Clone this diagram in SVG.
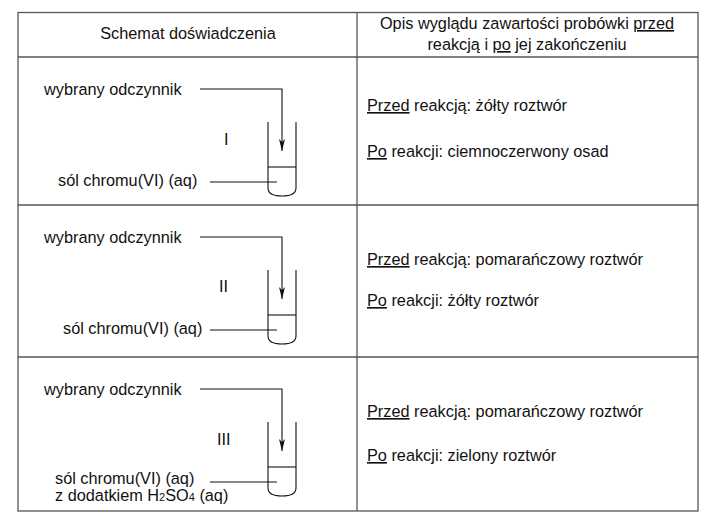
<svg xmlns="http://www.w3.org/2000/svg" width="715" height="519" viewBox="0 0 715 519">
<defs>
<style>
text{font-family:"Liberation Sans",Arial,sans-serif;font-size:16.3px;fill:#111}
.grid{stroke:#555;stroke-width:1.3;fill:none}
.ln{stroke:#111;stroke-width:1.1;fill:none}
.u{text-decoration:underline}
</style>
<marker id="ah" viewBox="0 0 12 6" refX="12" refY="3" markerWidth="12" markerHeight="6" markerUnits="userSpaceOnUse" orient="auto">
<path d="M0,0 L12,3 L0,6 L3,3 Z" fill="#111"/>
</marker>
<path id="tube" d="M0,0 V66 Q0,74 14,74 Q28,74 28,66 V0"/>
</defs>
<rect width="715" height="519" fill="#fff"/>
<g id="table" class="grid">
<rect x="18" y="12.5" width="680" height="498.5"/>
<line x1="357" y1="12.5" x2="357" y2="511"/>
<line x1="18" y1="57" x2="698" y2="57"/>
<line x1="18" y1="205" x2="698" y2="205"/>
<line x1="18" y1="357" x2="698" y2="357"/>
</g>
<g id="header">
<text x="188" y="39" text-anchor="middle">Schemat doświadczenia</text>
<text x="527" y="29" text-anchor="middle">Opis wyglądu zawartości probówki <tspan class="u">przed</tspan></text>
<text x="527" y="50" text-anchor="middle">reakcją i <tspan class="u">po</tspan> jej zakończeniu</text>
</g>
<g id="tube1">
<use href="#tube" x="268" y="122" class="ln"/>
<line x1="268" y1="167" x2="296" y2="167" class="ln"/>
<text x="44" y="95">wybrany odczynnik</text>
<text x="224" y="145">I</text>
<text x="58" y="186">sól chromu(VI) (aq)</text>
</g>
<g id="tube2">
<use href="#tube" x="268" y="270" class="ln"/>
<line x1="268" y1="315" x2="296" y2="315" class="ln"/>
<text x="44" y="243">wybrany odczynnik</text>
<text x="219" y="292">II</text>
<text x="63" y="334">sól chromu(VI) (aq)</text>
</g>
<g id="tube3">
<use href="#tube" x="268" y="422" class="ln"/>
<line x1="268" y1="467" x2="296" y2="467" class="ln"/>
<text x="44" y="395">wybrany odczynnik</text>
<text x="217" y="445">III</text>
<text x="55" y="484">sól chromu(VI) (aq)</text>
<text x="55" y="501">z dodatkiem H<tspan font-size="11">2</tspan>SO<tspan font-size="11">4</tspan> (aq)</text>
</g>
<g id="desc">
<text x="367" y="111"><tspan class="u">Przed</tspan> reakcją: żółty roztwór</text>
<text x="367" y="157"><tspan class="u">Po</tspan> reakcji: ciemnoczerwony osad</text>
<text x="367" y="265"><tspan class="u">Przed</tspan> reakcją: pomarańczowy roztwór</text>
<text x="367" y="306"><tspan class="u">Po</tspan> reakcji: żółty roztwór</text>
<text x="367" y="417"><tspan class="u">Przed</tspan> reakcją: pomarańczowy roztwór</text>
<text x="367" y="461"><tspan class="u">Po</tspan> reakcji: zielony roztwór</text>
</g>
<g id="connectors" class="ln">
<path d="M200,89 H282 V151" marker-end="url(#ah)"/>
<line x1="210" y1="182" x2="277" y2="182"/>
<path d="M200,237 H282 V299" marker-end="url(#ah)"/>
<line x1="210" y1="330" x2="277" y2="330"/>
<path d="M200,389 H282 V451" marker-end="url(#ah)"/>
<line x1="210" y1="482" x2="277" y2="482"/>
</g>
</svg>
